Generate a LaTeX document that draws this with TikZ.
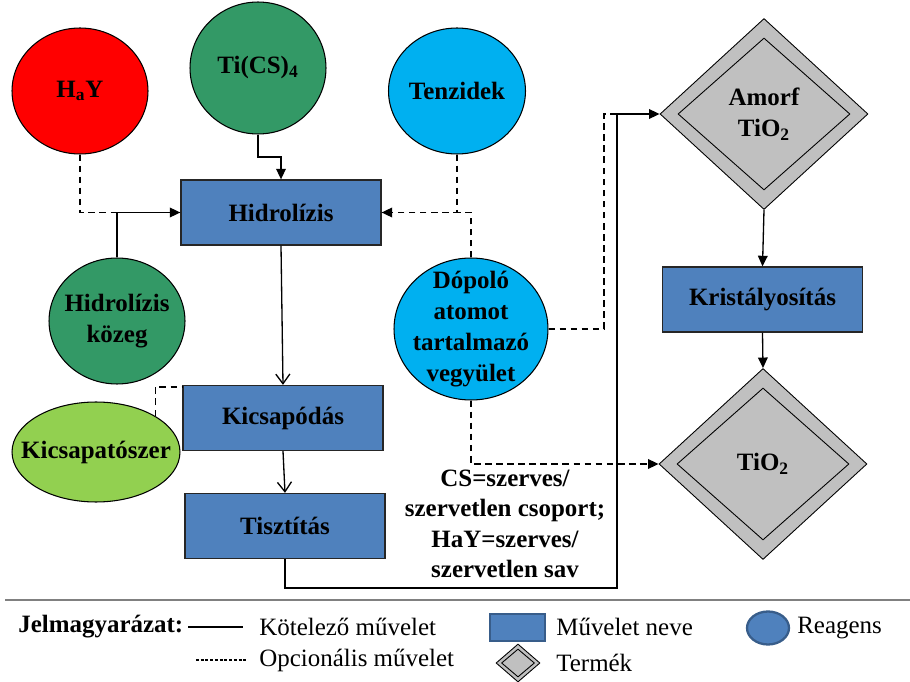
\documentclass[tikz,border=0pt]{standalone}
\usepackage{fontspec}
\setmainfont{Liberation Serif}
\usetikzlibrary{shapes.geometric}
\usetikzlibrary{arrows.meta}
\usetikzlibrary{calc}

% colours
\definecolor{muveletkek}{HTML}{4F81BD}
\definecolor{keret}{HTML}{385D8A}
\definecolor{piros}{HTML}{FF0000}
\definecolor{zold}{HTML}{339966}
\definecolor{ciankek}{HTML}{00B0F0}
\definecolor{vilagoszold}{HTML}{92D050}
\definecolor{termekszurke}{HTML}{C0C0C0}

\begin{document}
\begin{tikzpicture}[x=0.02cm, y=-0.02cm, font=\fontsize{14.2}{17.5}\selectfont,
	muvelet/.style={rectangle, draw=black!85, line width=0.75pt, fill=muveletkek, minimum width=4cm, minimum height=1.3cm, font=\fontsize{14.2}{17.5}\selectfont\bfseries},
	reagens/.style={ellipse, draw=black, line width=0.6pt, inner sep=0pt},
	reagszoveg/.style={align=center, font=\fontsize{14.2}{17.5}\selectfont\bfseries},
	termek/.style={diamond, draw=black, line width=0.5pt, fill=termekszurke, inner sep=0pt, minimum width=4.16cm, minimum height=3.82cm, align=center, font=\fontsize{14.2}{17.5}\selectfont\bfseries},
	termekbelso/.style={diamond, draw=black, line width=0.5pt, inner sep=0pt, minimum width=3.44cm, minimum height=3.04cm},
	kotelezo/.style={line width=0.75pt},
	opcionalis/.style={line width=0.75pt, dash pattern=on 3.8pt off 2.5pt},
	teli/.style={-{Triangle[length=6pt,width=5.5pt]}},
	nyitott/.style={-{Straight Barb[length=5.5pt,width=8pt]}},
]
	\useasboundingbox (0,0) rectangle (910,682);

	% reagents
	\node[reagens, fill=piros, minimum width=2.72cm, minimum height=2.52cm, label={[reagszoveg]center:H\textsubscript{a}Y}] (hay) at (80,91) {};
	\node[reagens, fill=zold, minimum width=2.72cm, minimum height=2.64cm, label={[reagszoveg]center:Ti(CS)\textsubscript{4}}] (tics) at (258,68) {};
	\node[reagens, fill=ciankek, minimum width=2.74cm, minimum height=2.52cm, label={[reagszoveg]center:Tenzidek}] (tenz) at (457,91) {};
	\node[reagens, fill=zold, minimum width=2.72cm, minimum height=2.52cm, label={[reagszoveg]center:Hidrolízis\\közeg}] (kozeg) at (117,321) {};
	\node[reagens, fill=ciankek, minimum width=3.08cm, minimum height=2.84cm, label={[reagszoveg]center:Dópoló\\atomot\\tartalmazó\\vegyület}] (dopolo) at (471,329) {};
	\node[reagens, fill=vilagoszold, minimum width=3.36cm, minimum height=2cm, label={[reagszoveg]center:Kicsapatószer}] (kicsapszer) at (96,452) {};

	% operations
	\node[muvelet] (hidro) at (281,212.5) {Hidrolízis};
	\node[muvelet] (kicsap) at (283,418) {Kicsapódás};
	\node[muvelet] (tiszt) at (285,526) {Tisztítás};
	\node[muvelet] (krist) at (762.5,299.5) {Kristályosítás};

	% products
	\node[termek] (amorf) at (764,114) {Amorf\\TiO\textsubscript{2}};
	\node[termekbelso] at (amorf) {};
	\node[termek] (tio) at (763,464) {TiO\textsubscript{2}};
	\node[termekbelso] at (tio) {};

	% bends
	\coordinate (gyujto) at (617,588);
	\coordinate (dopfel) at (604,114);

	% connectors into the hydrolysis
	\draw[opcionalis] (hay.south) |- (kozeg.north |- hidro.west);
	\draw[kotelezo, teli] (kozeg.north) |- (hidro.west);
	\draw[kotelezo, teli] (tics.south) |- ($(tics.south)!.5!(hidro.north)$) -| (hidro.north);
	\draw[opcionalis, teli] (tenz.south) |- (hidro.east);
	\draw[opcionalis] (dopolo.north) |- (tenz.south |- hidro.east);

	% main line
	\draw[kotelezo, nyitott] (hidro.south) -- (kicsap.north);
	\draw[kotelezo, nyitott] (kicsap.south) -- (tiszt.north);
	\draw[opcionalis] (kicsapszer.31) |- ($(kicsap.north west)+(0,2)$);
	\draw[kotelezo, teli] (tiszt.south) |- (gyujto) |- (amorf.west);
	\draw[opcionalis] (dopolo.east) -| (dopfel) -- (gyujto |- amorf.west);
	\draw[opcionalis, teli] (dopolo.south) |- (tio.west);
	\draw[kotelezo, teli] (amorf.south) -- (krist.north);
	\draw[kotelezo, teli] (krist.south) -- (tio.north);

	% note
	\node[align=center, font=\fontsize{14.2}{17.3}\selectfont\bfseries, inner sep=0pt] (megj) at (505,524) {CS=szerves/\\szervetlen csoport;\\HaY=szerves/\\szervetlen sav};

	% legend
	\draw[gray, line width=1.2pt] (5,600) -- (910,600);
	\node[anchor=west, font=\fontsize{14.2}{17.5}\selectfont\bfseries, inner sep=0pt] (jelm) at (18,627) {Jelmagyarázat:};
	\draw[line width=0.6pt] (188,627) -- (243,627);
	\node[anchor=west, inner sep=0pt] (kotl) at (259,627) {Kötelező művelet};
	\draw[line width=0.6pt, dash pattern=on 1.6pt off 1.1pt] (196,660) -- (246,660);
	\node[anchor=west, inner sep=0pt] (opcl) at (259,660) {Opcionális művelet};
	\node[rectangle, draw=keret, line width=1.3pt, fill=muveletkek, minimum width=1.1cm, minimum height=0.54cm] (jmuv) at (517.5,627.5) {};
	\node[anchor=west, inner sep=0pt] (muvl) at (556,627) {Művelet neve};
	\node[diamond, draw=black, line width=0.5pt, fill=termekszurke, inner sep=0pt, minimum width=0.88cm, minimum height=0.76cm] (jterm) at (518,663) {};
	\node[diamond, draw=black, line width=0.5pt, inner sep=0pt, minimum width=0.66cm, minimum height=0.56cm] at (jterm) {};
	\node[anchor=west, inner sep=0pt] (terml) at (556,663) {Termék};
	\node[ellipse, draw=keret, line width=1.3pt, fill=muveletkek, inner sep=0pt, minimum width=0.84cm, minimum height=0.66cm] (jreag) at (768,628) {};
	\node[anchor=west, inner sep=0pt] (reagl) at (797,628) {Reagens};

\end{tikzpicture}
\end{document}
